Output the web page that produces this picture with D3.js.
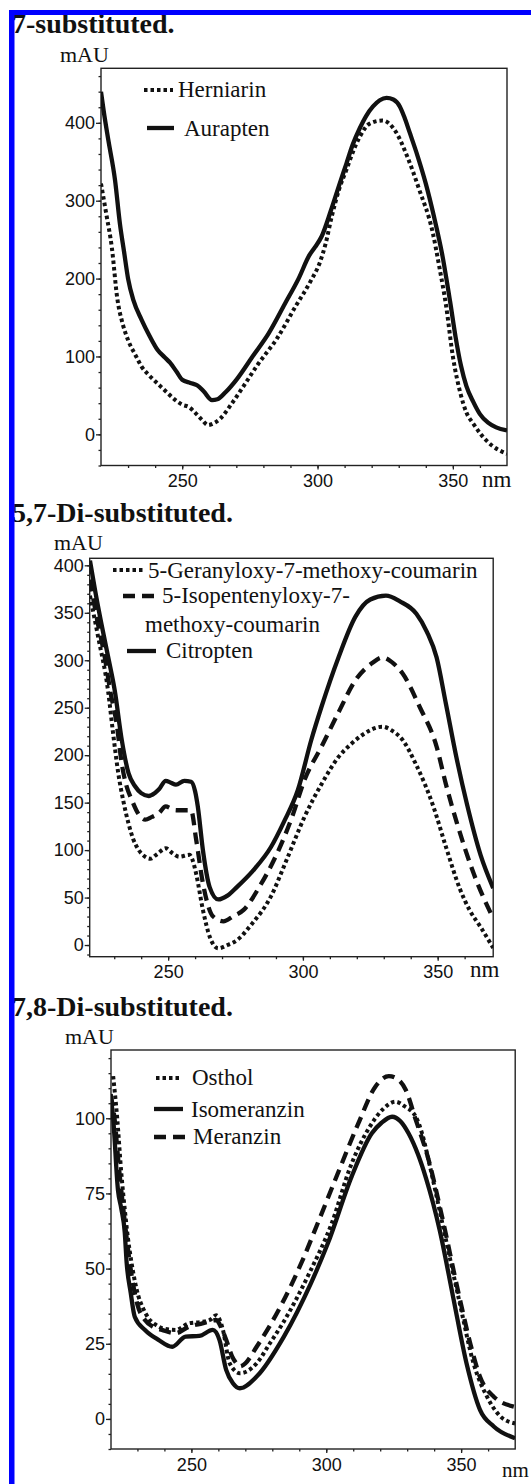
<!DOCTYPE html>
<html>
<head>
<meta charset="utf-8">
<script src="https://cdn.jsdelivr.net/npm/d3@7"></script>
<style>
body { margin: 0; background: #fff; }
svg text { fill: #111; }
.serif { font-family: "Liberation Serif", "Times New Roman", serif; }
.tick text { font-family: "Liberation Sans", Arial, sans-serif; font-size: 18px; fill: #111; }
.tick line { stroke: #222; stroke-width: 1.3; }
</style>
</head>
<body>
<script>
let width = 531;
let height = 1484;

// panel 1: 7-substituted  [nm, mAU]
let herniarin = [[220,322],[222,282],[224,240],[226,175],[228,142],[230,121],[233,100],[235,87],[238,75],[241,65],[244,55],[247.5,44],[250,38],[252.5,35],[255,27],[257.5,18],[259.5,12],[262,15],[264,20],[268,38],[272.5,61],[278,90],[285,123],[292,165],[297.5,197],[301,222],[303,245],[305.2,279],[308,315],[310.7,340],[313,362],[315.6,382],[319.3,399],[324,403],[329,388],[333,358],[337.5,315],[342.5,260],[345,215],[347.5,165],[350,100],[353,50],[355,28],[357.5,14],[360.6,-1],[364.3,-14],[370,-25]];
let aurapten = [[220,440],[221,415],[222.7,378],[225.2,326],[227,270],[228.5,235],[230,200],[232,172],[235,147],[238,126],[241,108],[243.5,99],[245.5,92],[248,80],[250,70],[253,66],[255.5,63],[258,55],[261,44],[263,45],[266,54],[270,70],[276,100],[282,130],[288,168],[293,200],[297,230],[299,240],[301.5,254],[305,288],[308,320],[310.7,348],[313,372],[315.6,393],[318,409],[320.5,421],[323,429],[325.5,432],[328,430],[330.4,421],[332,408],[334,388],[337,357],[340,322],[343,280],[346,232],[349,170],[351,125],[353,88],[355,62],[357.5,42],[360,26],[363,15],[366,9],[370,5]];

// panel 2: 5,7-di-substituted
let geranyloxy = [[221,368],[224,325],[227.7,268],[229.5,225],[231.5,181],[233.5,150],[235.3,128],[237,112],[239.1,100],[241,94],[243.4,91],[246,96],[249.1,102],[251.5,97],[254.1,93],[257.9,95],[259,90],[260.4,75],[262.9,37],[265.4,9],[268.6,-3.5],[272,0],[275.5,5],[281,22],[288.1,51],[294,90],[300.6,135],[307,170],[313.2,198],[318,212],[321.9,221],[329.5,230],[333,226],[337,216],[342,190],[348.4,146],[353,104],[358.4,58],[362,36],[365.9,19],[370.6,-3]];
let isopentenyloxy = [[221,385],[223.5,345],[226.5,303],[228.5,268],[230.9,233],[232.8,191],[234.5,168],[236.5,153],[239,138],[241.5,132],[244,135],[246.6,139],[249.1,146],[251,144],[252.9,142],[256,142],[258.5,142],[260.4,111],[262.9,65],[266.7,30],[270.5,25],[274,30],[278,37],[284,62],[290.5,97],[296,135],[300.6,174],[306.9,209],[313.2,245],[319.5,279],[325.7,297],[329.5,303],[333,298],[337,286],[343.3,251],[349.6,209],[353,170],[357.2,128],[363.4,75],[370.6,28]];
let citropten = [[221,405],[223,372],[225.2,339],[228,300],[230.2,268],[232.8,216],[235.3,181],[237.8,167],[240,160],[242.8,157],[245,160],[246.6,164],[249.1,173],[251,171],[252.9,169],[256,173],[258.5,172],[260,162],[261,146],[262.9,100],[265.4,61],[268.6,48],[272,52],[275.5,61],[282,80],[288.1,103],[293,130],[298.1,163],[303.1,216],[306.9,251],[313.2,303],[319.5,346],[325,364],[330.8,368],[336,362],[342.1,349],[346,330],[349.6,303],[353,255],[357,197],[360.9,148],[365.9,95],[370.6,60]];

// panel 3: 7,8-di-substituted
let osthol = [[221,114],[222.5,100],[224,82],[225.5,68],[226.5,60],[227.8,52],[230.3,41],[232,37],[234.1,33.5],[236.5,31.5],[239.1,30.2],[244.1,29.6],[249.1,31.8],[254.1,32.3],[257,33],[259.2,34.5],[260.5,33],[261.7,29.6],[264.2,18.5],[268,15.2],[274.2,18.5],[279,25],[284,32],[294,49],[302,65],[309,84],[316,97],[321,103],[325.7,105.5],[329,104],[333.2,100.5],[335.5,95],[338.2,85],[343.3,64],[349.5,38.5],[354.6,18.5],[359.6,7.4],[364.6,0.8],[370,-1.5]];
let isomeranzin = [[220,108],[221,100],[222.8,76],[224,70],[225.3,62],[226,52],[227.5,42],[229,34],[232.8,29.6],[237.8,26.3],[242.9,24],[247.9,27.4],[252.9,27.6],[257.9,29.6],[260.4,26.3],[262.9,16.3],[265.4,11.9],[268,10.2],[274.2,14.1],[284.3,27.4],[294.3,45.1],[300.6,58.4],[309.4,80.6],[316.9,95],[320.5,98.5],[324.4,100.5],[327.5,99],[330.5,95],[334,88],[337,80],[342,63],[347,40.7],[352,18.5],[357,3],[362.1,-2.5],[370,-6.4]];
let meranzin = [[220,108],[221.5,100],[223,85],[225,68],[227.8,48],[230,38],[232.8,32.9],[236,30.5],[239.1,29.6],[244.1,28.5],[249.1,30.7],[254.1,31.8],[259.2,32.9],[261,30.5],[262.9,26.3],[265,21],[266.7,18.5],[268,17.5],[270,18.5],[274.2,24],[283,37.3],[291.8,54],[296.8,65],[304.3,81.7],[311.9,98.3],[318.2,110.5],[323.2,114],[326.5,113],[329.5,109.4],[333,100],[338,86],[343,67],[349,42],[354,23],[357,14],[362.1,7.4],[370,4]];

let titles = ["7-substituted.", "5,7-Di-substituted.", "7,8-Di-substituted."];
let xTicks = [250, 300, 350];
let yTicks1 = [0, 100, 200, 300, 400];
let yTicks2 = [0, 50, 100, 150, 200, 250, 300, 350, 400];
let yTicks3 = [0, 25, 50, 75, 100];

let styles = {
    solid: { w: 4.3, dash: null },
    dot: { w: 4, dash: "3.5,3" },
    dash: { w: 4.3, dash: "12,7" }
};

let svg = d3.select("body")
    .append("svg")
    .attr("width", width)
    .attr("height", height);

function drawPanel(p) {
    let x = d3.scaleLinear().domain(p.xDomain).range([p.left, p.right]);
    let y = d3.scaleLinear().domain(p.yDomain).range([p.bottom, p.top]);
    let g = svg.append("g");

    g.append("text")
        .attr("class", "serif")
        .attr("x", 12)
        .attr("y", p.titleY)
        .attr("font-size", 28)
        .attr("font-weight", "bold")
        .text(p.title);

    g.append("text")
        .attr("class", "serif")
        .attr("x", p.mauX)
        .attr("y", p.mauY)
        .attr("font-size", 22)
        .text("mAU");

    g.append("clipPath").attr("id", "clip" + p.id)
        .append("rect")
        .attr("x", p.left).attr("y", p.top)
        .attr("width", p.right - p.left).attr("height", p.bottom - p.top);

    // minor ticks
    g.append("g")
        .attr("transform", "translate(0," + p.bottom + ")")
        .call(d3.axisBottom(x).tickValues(d3.range(230, 361, 10)).tickSize(2.5).tickFormat(""))
        .call(a => a.select(".domain").remove());
    g.append("g")
        .attr("transform", "translate(" + p.left + ",0)")
        .call(d3.axisLeft(y).tickValues(p.yMinor).tickSize(2.5).tickFormat(""))
        .call(a => a.select(".domain").remove());

    // major ticks
    g.append("g")
        .attr("transform", "translate(0," + p.bottom + ")")
        .call(d3.axisBottom(x).tickValues(xTicks).tickSize(4).tickPadding(5))
        .call(a => a.select(".domain").remove());
    g.append("g")
        .attr("transform", "translate(" + p.left + ",0)")
        .call(d3.axisLeft(y).tickValues(p.yTicks).tickSize(5).tickPadding(1))
        .call(a => a.select(".domain").remove());

    g.append("rect")
        .attr("x", p.left).attr("y", p.top)
        .attr("width", p.right - p.left).attr("height", p.bottom - p.top)
        .attr("fill", "none")
        .attr("stroke", "#222")
        .attr("stroke-width", 1.4);

    g.append("text")
        .attr("class", "serif")
        .attr("x", p.nmX)
        .attr("y", p.nmY)
        .attr("font-size", p.nmSize)
        .text("nm");

    let line = d3.line()
        .x(d => x(d[0]))
        .y(d => y(d[1]))
        .curve(d3.curveMonotoneX);

    g.append("g")
        .attr("clip-path", "url(#clip" + p.id + ")")
        .selectAll("path")
        .data(p.series)
        .enter().append("path")
            .attr("d", d => line(d.data))
            .attr("fill", "none")
            .attr("stroke", "#111")
            .attr("stroke-width", d => styles[d.style].w)
            .attr("stroke-dasharray", d => styles[d.style].dash);

    // legend
    p.series.forEach(function(s) {
        let L = s.legend;
        g.append("line")
            .attr("x1", L.x1).attr("x2", L.x2)
            .attr("y1", L.y).attr("y2", L.y)
            .attr("stroke", "#111")
            .attr("stroke-width", styles[s.style].w)
            .attr("stroke-dasharray", styles[s.style].dash);
        L.lines.forEach(function(t) {
            g.append("text")
                .attr("class", "serif")
                .attr("x", t[0])
                .attr("y", t[1])
                .attr("font-size", 23)
                .text(t[2]);
        });
    });
}

drawPanel({
    id: 1, title: titles[0], titleY: 33, mauX: 60, mauY: 62,
    left: 101, right: 507, top: 68.3, bottom: 465.5,
    xDomain: [220, 370], yDomain: [-40, 470],
    yTicks: yTicks1, yMinor: d3.range(-40, 461, 20),
    nmX: 482, nmY: 487, nmSize: 23,
    series: [
        { data: herniarin, style: "dot", legend: { x1: 144, x2: 173, y: 90, lines: [[178, 97, "Herniarin"]] } },
        { data: aurapten, style: "solid", legend: { x1: 147, x2: 174, y: 128, lines: [[184, 136, "Aurapten"]] } }
    ]
});

drawPanel({
    id: 2, title: titles[1], titleY: 522, mauX: 54, mauY: 550,
    left: 89.7, right: 493.2, top: 558.3, bottom: 956.7,
    xDomain: [220.9, 370.6], yDomain: [-12.3, 407.4],
    yTicks: yTicks2, yMinor: d3.range(-10, 401, 10),
    nmX: 470, nmY: 977, nmSize: 23,
    series: [
        { data: geranyloxy, style: "dot", legend: { x1: 113, x2: 143, y: 570, lines: [[148, 578, "5-Geranyloxy-7-methoxy-coumarin"]] } },
        { data: isopentenyloxy, style: "dash", legend: { x1: 123, x2: 156, y: 596, lines: [[162, 603, "5-Isopentenyloxy-7-"], [145, 632, "methoxy-coumarin"]] } },
        { data: citropten, style: "solid", legend: { x1: 127, x2: 156, y: 651, lines: [[166, 658, "Citropten"]] } }
    ]
});

drawPanel({
    id: 3, title: titles[2], titleY: 1016, mauX: 65, mauY: 1044,
    left: 111, right: 515.2, top: 1050, bottom: 1449,
    xDomain: [220.2, 370.05], yDomain: [-10, 122.7],
    yTicks: yTicks3, yMinor: d3.range(-10, 121, 5),
    nmX: 502, nmY: 1477, nmSize: 21,
    series: [
        { data: osthol, style: "dot", legend: { x1: 156, x2: 182, y: 1078, lines: [[192, 1085, "Osthol"]] } },
        { data: isomeranzin, style: "solid", legend: { x1: 154, x2: 183, y: 1109, lines: [[191, 1117, "Isomeranzin"]] } },
        { data: meranzin, style: "dash", legend: { x1: 154, x2: 185, y: 1137, lines: [[193, 1144, "Meranzin"]] } }
    ]
});

// blue frame over the page edge
svg.append("rect").attr("x", 9).attr("y", 10).attr("width", width - 9).attr("height", 5).attr("fill", "#0000ff");
svg.append("rect").attr("x", 9).attr("y", 10).attr("width", 5.5).attr("height", height - 10).attr("fill", "#0000ff");
</script>
</body>
</html>
